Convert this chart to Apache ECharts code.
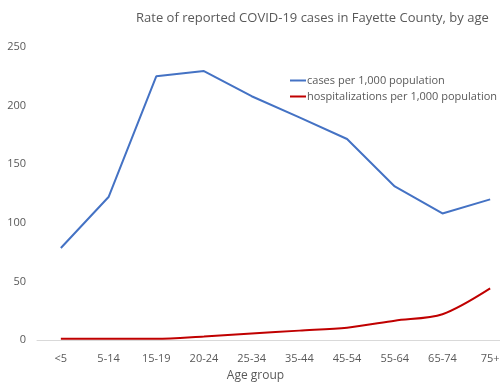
<!DOCTYPE html>
<html><head><meta charset="utf-8">
<script src="https://cdn.jsdelivr.net/npm/echarts@6/dist/echarts.min.js"></script>
<style>html,body{margin:0;padding:0;background:#fff;overflow:hidden;width:500px;height:387px}#c{width:514px;height:387px}</style>
</head><body><div id="c"></div>
<script>
const categories = ['<5','5-14','15-19','20-24','25-34','35-44','45-54','55-64','65-74','75+'];
const cases = [78.5, 122, 225, 229.5, 208, 190, 171.5, 131, 108, 120];
const hosp = [1, 1, 1, 3, 5.5, 8, 10.5, 16.5, 22, 44];
const yTicks = [0, 50, 100, 150, 200, 250];
const font = '"Open Sans", "Liberation Sans", sans-serif';
const chart = echarts.init(document.getElementById('c'), null, {renderer:'canvas'});
chart.setOption({
  animation:false,
  title:{text:'Rate of reported COVID-19 cases in Fayette County, by age', left:131, top:7,
    textStyle:{fontFamily:font, fontSize:13, fontWeight:'normal', color:'#595959'}},
  legend:{orient:'vertical', left:285, top:70, itemWidth:16, itemHeight:2, itemGap:5, icon:'rect',
    textStyle:{fontFamily:font, fontSize:11, color:'#595959', padding:[0,0,0,-4]},
    data:['cases per 1,000 population','hospitalizations per 1,000 population']},
  grid:{left:37, right:0, top:47, height:293},
  xAxis:{type:'category', data:categories, boundaryGap:true,
    name:'Age group', nameLocation:'middle', nameGap:30,
    nameTextStyle:{fontFamily:font, fontSize:12, color:'#595959', padding:[0,0,0,-40]},
    axisLine:{lineStyle:{color:'#d9d9d9'}}, axisTick:{show:false},
    axisLabel:{fontFamily:font, fontSize:11, color:'#595959', margin:13, interval:0}},
  yAxis:{type:'value', min:0, max:250, interval:50,
    splitLine:{show:false}, axisLine:{show:false}, axisTick:{show:false},
    axisLabel:{fontFamily:font, fontSize:11, color:'#595959', margin:11,
      formatter:v=>yTicks.includes(v)?String(v):''}},
  series:[
    {name:'cases per 1,000 population', type:'line', data:cases, showSymbol:false, smooth:false,
      lineStyle:{color:'#4472C4', width:2}, itemStyle:{color:'#4472C4'}},
    {name:'hospitalizations per 1,000 population', type:'line', data:hosp, showSymbol:false, smooth:0.3,
      lineStyle:{color:'#C00000', width:2}, itemStyle:{color:'#C00000'}}
  ]
});
</script></body></html>
